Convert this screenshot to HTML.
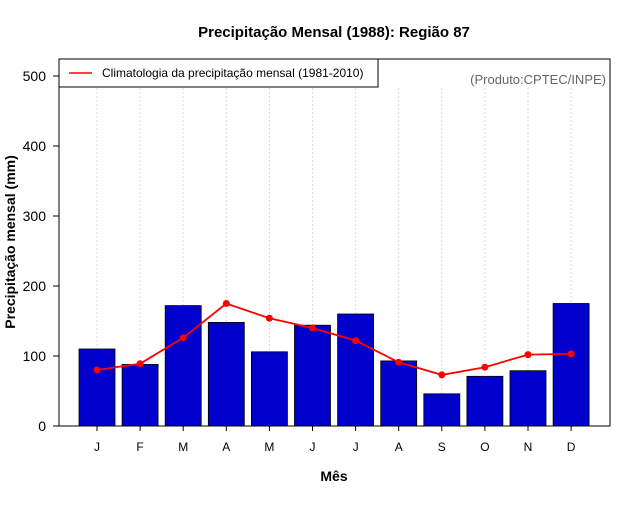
<!DOCTYPE html>
<html><head><meta charset="utf-8"><style>
body{margin:0;background:#fff;}
svg text{font-family:"Liberation Sans",sans-serif;}
</style></head><body>
<svg id="chart" width="640" height="500" xmlns="http://www.w3.org/2000/svg">
<rect width="640" height="500" fill="#fff"/>
<text x="334" y="37" font-size="15" font-weight="bold" text-anchor="middle">Precipitação Mensal (1988): Região 87</text>
<g id="grid"></g>
<g id="bars"></g>
<g id="line"></g>
<rect x="59" y="59" width="551" height="367" fill="none" stroke="#000" stroke-width="1"/>
<g id="yaxis"></g>
<g id="xaxis"></g>
<text x="15" y="242" font-size="14" font-weight="bold" text-anchor="middle" transform="rotate(-90 15 242)">Precipitação mensal (mm)</text>
<text x="334" y="481" font-size="14" font-weight="bold" text-anchor="middle">Mês</text>
<g>
<rect x="59" y="59" width="319" height="28" fill="#fff" stroke="#000"/>
<line x1="69" y1="73" x2="92" y2="73" stroke="red" stroke-width="1.5"/>
<text x="102" y="77" font-size="12">Climatologia da precipitação mensal (1981-2010)</text>
</g>
<text x="606" y="84" font-size="13" fill="#666" text-anchor="end">(Produto:CPTEC/INPE)</text>
</svg>
<script>
const months=["J","F","M","A","M","J","J","A","S","O","N","D"];
const precip=[110,88,172,148,106,144,160,93,46,71,79,175];
const climatology=[80,89,126,175,154,140,122,91,73,84,102,103];
const yTicks=[0,100,200,300,400,500];
const NS="http://www.w3.org/2000/svg";
function xPos(i){return 97+i*43.1;}
function yPos(v){return 426-v*0.7;}
function mk(tag,attrs,parent){const e=document.createElementNS(NS,tag);for(const k in attrs)e.setAttribute(k,attrs[k]);document.getElementById(parent).appendChild(e);return e;}
months.forEach((m,i)=>{
  const g=mk("line",{x1:xPos(i),x2:xPos(i),y1:88,y2:426,stroke:"#ddd","stroke-dasharray":"2,2"},"grid");
  
  
  const b=mk("rect",{x:xPos(i)-18,y:yPos(precip[i]),width:36,height:yPos(0)-yPos(precip[i]),fill:"#0000cc",stroke:"#000","stroke-width":0.8},"bars");
  
  
  const t=mk("line",{x1:xPos(i),x2:xPos(i),y1:426,y2:431,stroke:"#000"},"xaxis");
  
  
  const l=mk("text",{x:xPos(i),y:451,"font-size":12,"text-anchor":"middle"},"xaxis");
  l.textContent=m;
  
  
});
const pts=climatology.map((v,i)=>xPos(i)+","+yPos(v)).join(" ");
const pl=mk("polyline",{points:pts,fill:"none",stroke:"red","stroke-width":1.8},"line");


climatology.forEach((v,i)=>{
  const c=mk("circle",{cx:xPos(i),cy:yPos(v),r:3.5,fill:"red"},"line");
  
  
});
yTicks.forEach(v=>{
  const t=mk("line",{x1:53,x2:59,y1:yPos(v),y2:yPos(v),stroke:"#000"},"yaxis");
  
  
  const l=mk("text",{x:46,y:yPos(v)+5,"font-size":14,"text-anchor":"end"},"yaxis");
  l.textContent=v;
  
  
});
</script>
</body></html>
